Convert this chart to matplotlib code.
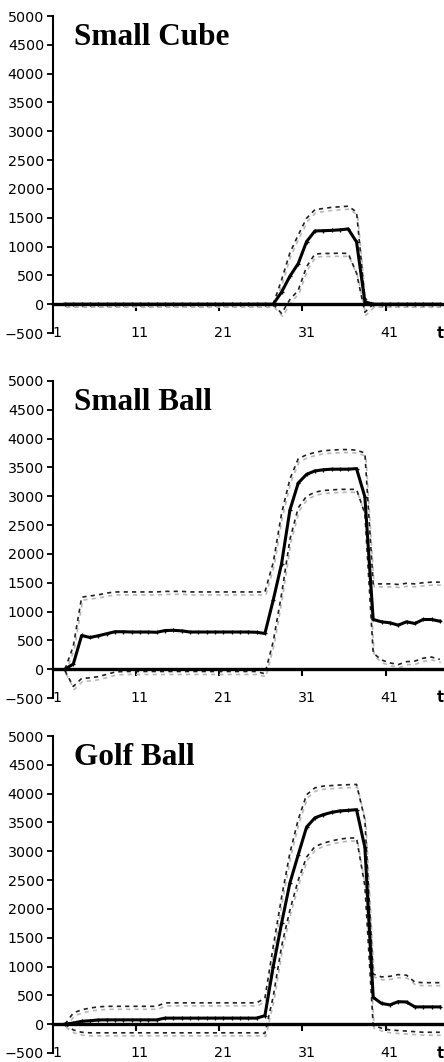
import numpy as np
import matplotlib
matplotlib.use('Agg')
import matplotlib.pyplot as plt
from matplotlib import transforms

# time steps (first plotted step is 2)
t = list(range(2, 48))

titles = ['Small Cube', 'Small Ball', 'Golf Ball']

# Small Cube
cube_mean = [0] * 26 + [210, 485, 705, 1085, 1270, 1275, 1280, 1290, 1305, 1080, 40] + [0] * 9
cube_upper = [0] * 26 + [420, 890, 1200, 1490, 1640, 1660, 1680, 1690, 1700, 1600, 100] + [0] * 9
cube_lower = [0] * 26 + [-160, 80, 240, 650, 870, 880, 880, 885, 880, 540, -140] + [0] * 9

# Small Ball
ball_mean = [0, 90, 585, 550, 580, 615, 650, 650, 645, 645, 645, 640, 670, 675, 665,
             645, 645, 645, 645, 645, 645, 645, 645, 640, 620,
             1200, 1830, 2760, 3230, 3380, 3440, 3460, 3470, 3470, 3470, 3480, 2990,
             862, 822, 805, 764, 822, 793, 862, 862, 833]
ball_upper = [0, 400, 1250, 1270, 1290, 1320, 1340, 1340, 1340, 1340, 1340, 1340, 1350, 1350, 1350,
              1340, 1340, 1340, 1340, 1340, 1340, 1340, 1340, 1340, 1340,
              1850, 2700, 3300, 3650, 3720, 3760, 3790, 3800, 3810, 3810, 3800, 3750,
              1480, 1480, 1480, 1470, 1490, 1480, 1500, 1510, 1510]
ball_lower = [-30, -300, -160, -150, -130, -90, -50, -40, -40, -40, -40, -40, -40, -40, -40,
              -40, -40, -40, -40, -40, -40, -40, -40, -40, -80,
              480, 1300, 2250, 2800, 3000, 3070, 3100, 3110, 3120, 3120, 3120, 2700,
              280, 160, 110, 80, 130, 140, 190, 210, 170]

# Golf Ball
golf_mean = [0, 20, 50, 60, 73] + [75] * 7 + [105] * 12 + \
            [148, 1000, 1750, 2450, 2940, 3420, 3580, 3635, 3675, 3700, 3710, 3722, 3070,
             465, 360, 335, 390, 385, 300, 300, 300, 300]
golf_upper = [0, 195, 250, 280, 300] + [310] * 7 + [370] * 12 + \
             [450, 1350, 2200, 2970, 3550, 3980, 4100, 4130, 4140, 4150, 4155, 4160, 3550,
              870, 820, 830, 860, 850, 730, 720, 720, 720]
golf_lower = [0, -100, -140, -150, -150] + [-150] * 7 + [-150] * 12 + \
             [-160, 480, 1350, 1980, 2500, 2900, 3080, 3140, 3180, 3210, 3230, 3230, 2400,
              -20, -70, -100, -110, -120, -130, -140, -140, -140]

means = [cube_mean, ball_mean, golf_mean]
uppers = [cube_upper, ball_upper, golf_upper]
lowers = [cube_lower, ball_lower, golf_lower]

x_labels = [1, 11, 21, 31, 41]
y_ticks = list(range(-500, 5001, 500))

W, H = 444, 1062
fig = plt.figure(figsize=(W / 100, H / 100), dpi=100)

left = 52.5 / W
width = 1 - left
tops = [16, 381, 736]       # pixel row of 5000
bottoms = [333, 698, 1053]  # pixel row of -500

for i in range(3):
    ax = fig.add_axes([left, 1 - bottoms[i] / H, width, (bottoms[i] - tops[i]) / H])
    ax.set_xlim(0.5, 47.5)
    ax.set_ylim(-500, 5000)

    # dashed bands with a light grey drop shadow
    shadow = transforms.offset_copy(ax.transData, fig=fig, x=1, y=-3, units='dots')
    for band in (uppers[i], lowers[i]):
        ax.plot(t, band, color='#b8b8b8', lw=1.2, ls=(0, (2.5, 2.5)), transform=shadow, zorder=2)
        ax.plot(t, band, color='#202020', lw=1.2, ls=(0, (2.5, 2.5)), zorder=3)
    ax.plot(t, means[i], color='black', lw=2.2, marker='+', ms=3.5, mew=0.9, zorder=4)

    ax.spines['top'].set_visible(False)
    ax.spines['right'].set_visible(False)
    ax.spines['left'].set_linewidth(1.5)
    ax.spines['bottom'].set_position(('data', 0))
    ax.spines['bottom'].set_linewidth(2.4)
    ax.spines['bottom'].set_zorder(5)

    ax.set_yticks(y_ticks)
    ax.tick_params(axis='y', direction='out', length=4, width=1.3, pad=2, labelsize=10.3)
    ax.set_xticks([10.5, 20.5, 30.5, 40.5])
    ax.set_xticklabels([])
    ax.tick_params(axis='x', direction='out', length=5, width=1.5)

    sec = ax.secondary_xaxis(0)
    sec.spines['bottom'].set_visible(False)
    sec.set_xticks(x_labels)
    sec.set_xticklabels([str(v) for v in x_labels], va='center')
    sec.tick_params(length=0, pad=0, labelsize=10.3)

    ax.text(1.0, 0.0, 't', transform=ax.transAxes, ha='right', va='center',
            fontsize=10.5, fontweight='bold')
    ax.text(0.055, 0.91, titles[i], transform=ax.transAxes, ha='left', va='baseline',
            fontsize=22.5, fontweight='bold', family='Liberation Serif')

fig.savefig('out.png', dpi=100)
